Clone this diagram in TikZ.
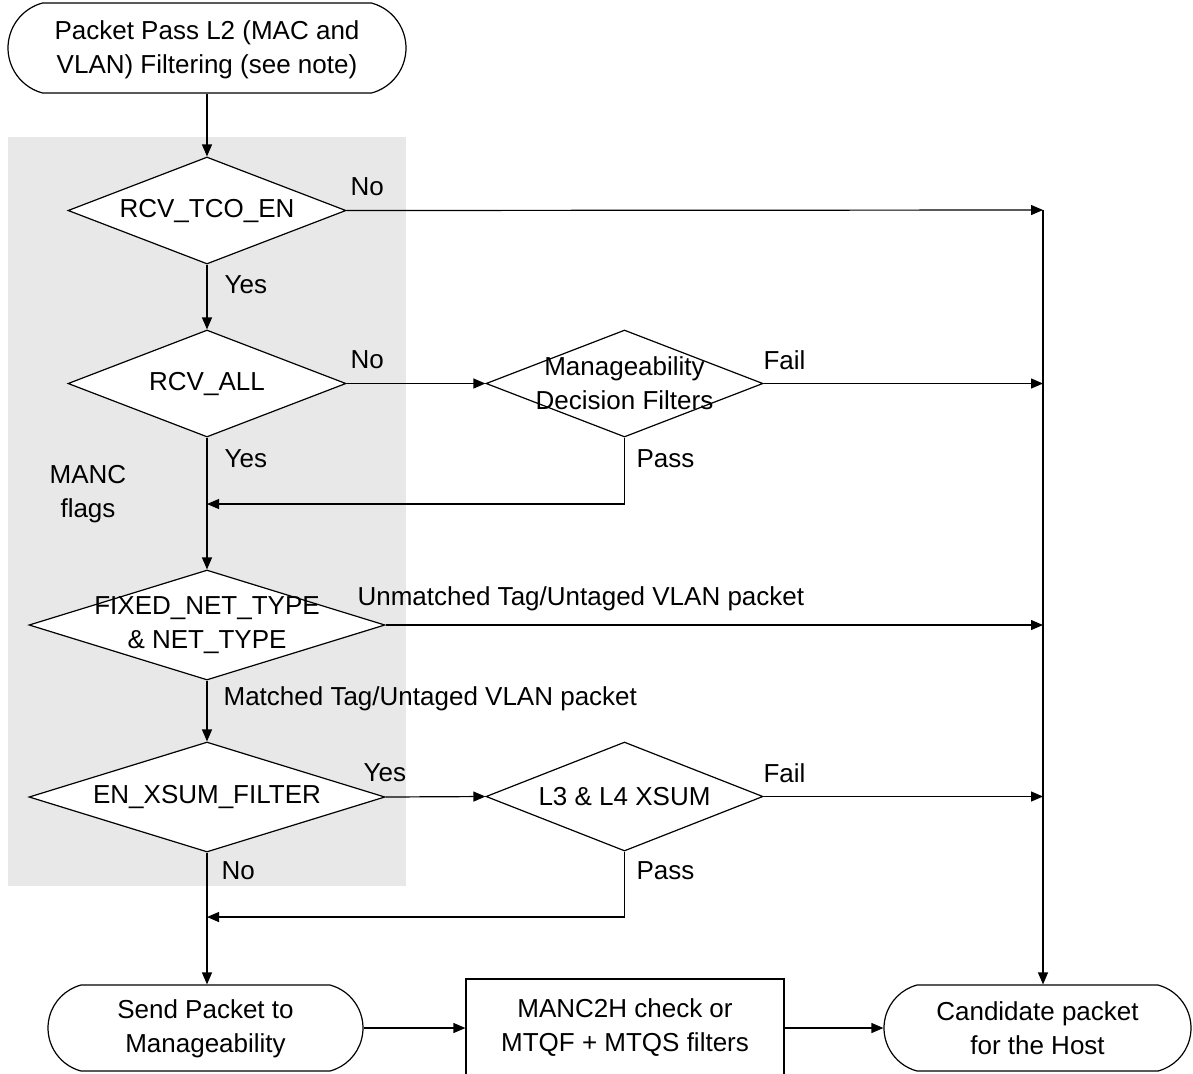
\documentclass[tikz,border=0pt]{standalone}
\usepackage{fontspec}
\setmainfont{Liberation Sans}
\usetikzlibrary{arrows.meta, shapes.geometric, shapes.misc}
\definecolor{mancgray}{RGB}{232, 232, 232}

\tikzset{
  dia/.style={diamond, draw, fill=white, inner sep=0pt},
  term/.style={rounded rectangle, rounded rectangle arc length=150, draw, fill=white, inner sep=0pt, align=center},
  proc/.style={rectangle, draw, fill=white, inner sep=0pt, align=center},
  txt/.style={align=center, inner sep=0pt},
  lbl/.style={anchor=west, inner sep=0pt}
}

\begin{document}
\begin{tikzpicture}[x=0.5pt, y=-0.5pt, >={Triangle[length=6pt, width=5pt]}, line width=0.6pt,
                    font=\fontsize{13}{17}\selectfont]
  \useasboundingbox (0,0) rectangle (1193,1073);

  % MANC flags area
  \fill[mancgray] (8,137) rectangle (406,886);

  % Nodes
  \node[term, minimum width=199pt, minimum height=45pt] (l2pass) at (207,48) {};
  \node[txt] (l2passtext) at (207,50) {Packet Pass L2 (MAC and\\VLAN) Filtering (see note)};
  \node[dia, minimum width=139pt, minimum height=53.5pt] (tco) at (207,210.5) {};
  \node[txt] (tcotext) at (tco) {RCV\_TCO\_EN};
  \node[dia, minimum width=139pt, minimum height=53.5pt] (rcvall) at (207,383.5) {};
  \node[txt] (rcvalltext) at (rcvall) {RCV\_ALL};
  \node[dia, minimum width=138.5pt, minimum height=53.5pt] (mdf) at (624.5,383.5) {};
  \node[txt] (mdftext) at (mdf) {Manageability\\Decision Filters};
  \node[dia, minimum width=178pt, minimum height=55pt] (nettype) at (207,625) {};
  \node[txt] (nettypetext) at (nettype) {FIXED\_NET\_TYPE\\\& NET\_TYPE};
  \node[dia, minimum width=178pt, minimum height=55pt] (xsum) at (207,797) {};
  \node[txt] (xsumtext) at (xsum) {EN\_XSUM\_FILTER};
  \node[dia, minimum width=138.5pt, minimum height=54.5pt] (l34) at (624.5,796.5) {};
  \node[txt] (l34text) at (l34) {L3 \& L4 XSUM};
  \node[term, minimum width=157.5pt, minimum height=43pt] (sendmng) at (205.5,1028) {};
  \node[txt] (sendmngtext) at (205.5,1029) {Send Packet to\\Manageability};
  \node[proc, minimum width=159pt, minimum height=49pt] (manc2h) at (625,1028)
    {MANC2H check or\\MTQF + MTQS filters};
  \node[term, minimum width=153.5pt, minimum height=43pt] (host) at (1037.5,1028)
    {Candidate packet\\for the Host};

  \coordinate (bus) at (1043,210);
  \coordinate (merge1) at (207,504);
  \coordinate (merge2) at (207,917);

  % Main flow
  \draw[->] (l2pass.south) -- (tco.north);
  \draw[->] (tco.south) -- (rcvall.north);
  \draw[->] (rcvall.south) -- (nettype.north);
  \draw[->] (nettype.south) -- (xsum.north);
  \draw[->] (xsum.south) -- (xsum.south |- sendmng.north);
  \draw[->] (rcvall.east) -- (mdf.west);
  \draw[->] (xsum.east) -- (l34.west);
  \draw[->] (mdf.south) |- (merge1);
  \draw[->] (l34.south) |- (merge2);

  % To the host
  \draw[->] (tco.east) -- (bus);
  \draw[->] (mdf.east) -- (mdf.east -| bus);
  \draw[->] (nettype.east) -- (nettype.east -| bus);
  \draw[->] (l34.east) -- (l34.east -| bus);
  \draw[->] (bus) -- (bus |- host.north);
  \draw[->] (sendmng.east) -- (manc2h.west);
  \draw[->] (manc2h.east) -- (host.west);

  % Labels
  \node[lbl] (tcono) at (350,187) {No};
  \node[lbl] (tcoyes) at (224,285) {Yes};
  \node[lbl] (allno) at (350,360) {No};
  \node[lbl] (mdffail) at (763,360) {Fail};
  \node[lbl] (allyes) at (224,459) {Yes};
  \node[lbl] (mdfpass) at (636,459) {Pass};
  \node[txt] (mancflags) at (88,494) {MANC\\flags};
  \node[lbl] (unmatched) at (357,599) {Unmatched Tag/Untaged VLAN packet};
  \node[lbl] (matched) at (223,699) {Matched Tag/Untaged VLAN packet};
  \node[lbl] (xsumyes) at (363,773) {Yes};
  \node[lbl] (l34fail) at (763,773) {Fail};
  \node[lbl] (l34pass) at (636,871) {Pass};
  \node[lbl] (xsumno) at (221,871) {No};
\end{tikzpicture}
\end{document}
